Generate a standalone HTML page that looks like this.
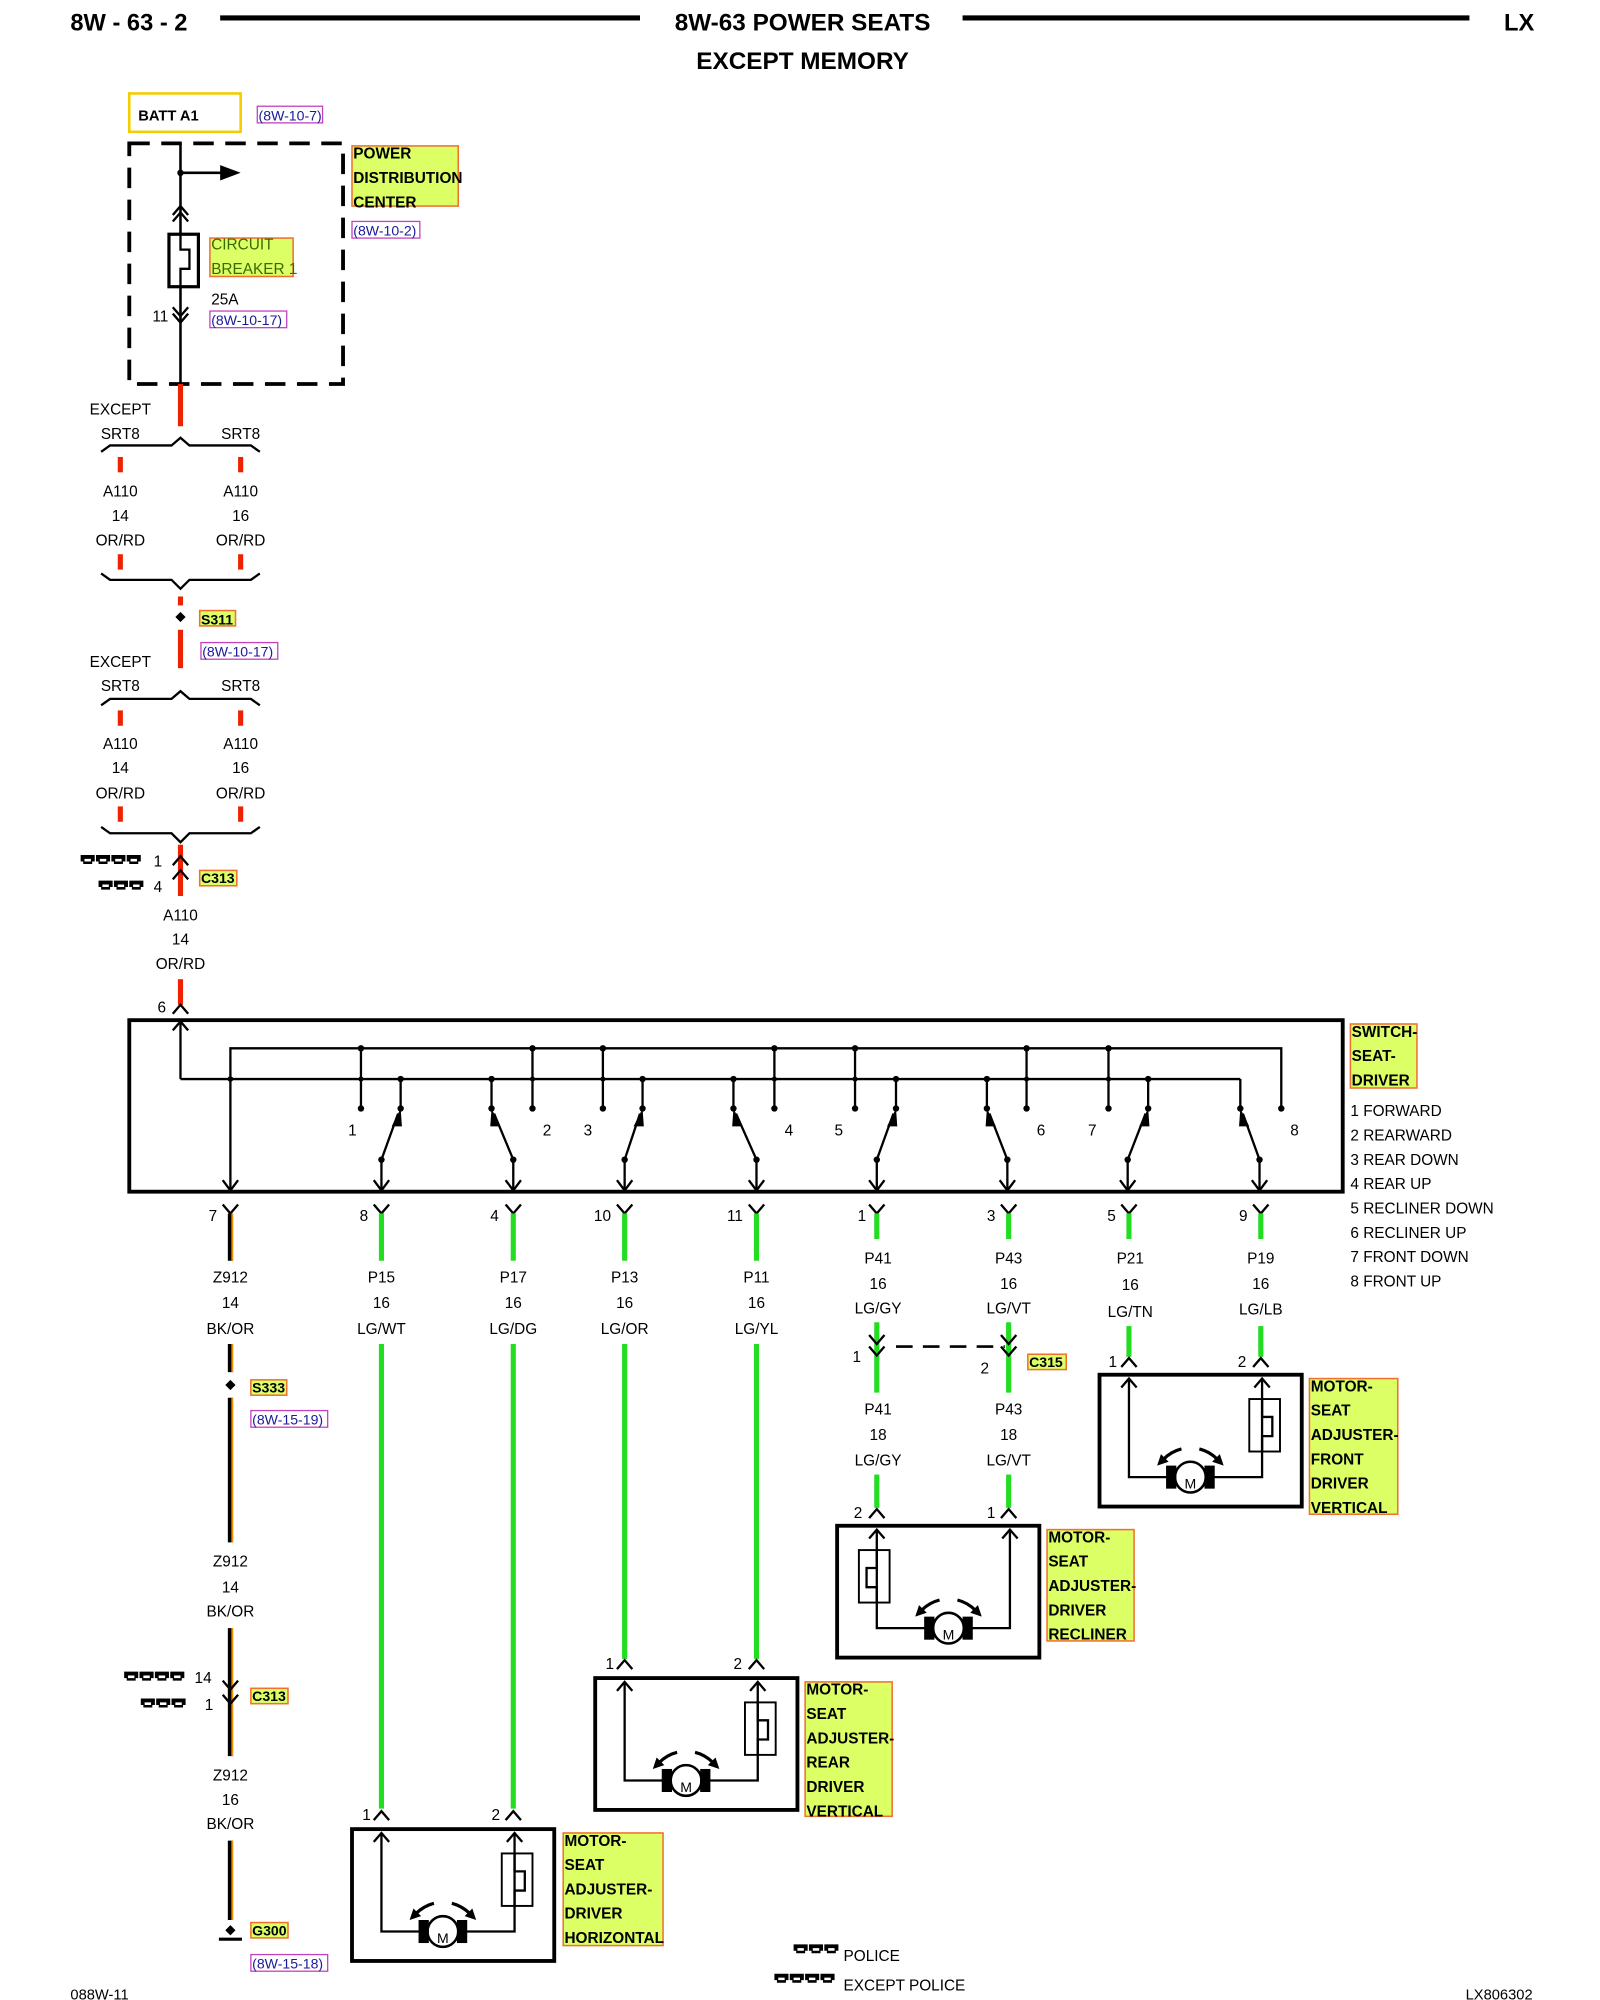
<!DOCTYPE html>
<html><head><meta charset="utf-8"><style>
html,body{margin:0;padding:0;background:#fff;}
svg{display:block;}
text{font-family:"Liberation Sans",sans-serif;fill:#000;}
.t{font-size:12px;text-anchor:middle;}
.tl{font-size:12px;}
.b{font-weight:bold;font-size:12px;}
.ref{font-size:11px;fill:#1a1a9a;}
.refb{fill:none;stroke:#c040c0;stroke-width:1;}
.lab{fill:#ddff66;stroke:#f07030;stroke-width:1.2;}
.k{stroke:#000;fill:none;stroke-width:1.8;}
.red{stroke:#ee2200;stroke-width:4;}
.grn{stroke:#22dd22;stroke-width:4;}
.m{font-size:11px;text-anchor:middle;}
</style></head><body>
<svg width="1600" height="2000" viewBox="0 0 1250 1562.5" xmlns="http://www.w3.org/2000/svg">
<defs>
<g id="motor">
 <rect x="0" y="0" width="158" height="103" fill="none" stroke="#000" stroke-width="3"/>
 <path class="k" d="M23 3 V80 H58 M84 80 H127 V3"/>
 <path class="k" d="M17 10 L23 3 L29 10 M121 10 L127 3 L133 10"/>
 <rect x="117" y="19" width="24" height="41" fill="none" stroke="#000" stroke-width="1.5"/>
 <path class="k" d="M127 19 V33 H135 V48 H127 V60" stroke-width="1.5"/>
 <circle cx="71" cy="80" r="12" fill="#fff" stroke="#000" stroke-width="2"/>
 <rect x="52" y="71" width="8" height="18" fill="#000"/>
 <rect x="82" y="71" width="8" height="18" fill="#000"/>
 <path d="M64 58 Q56 60 50 66" stroke="#000" stroke-width="2.5" fill="none"/>
 <path d="M45 71 L48 62 L54 68 Z" fill="#000"/>
 <path d="M78 58 Q86 60 92 66" stroke="#000" stroke-width="2.5" fill="none"/>
 <path d="M97 71 L94 62 L88 68 Z" fill="#000"/>
</g>
<g id="c3">
 <path d="M0 0 H11 V5 H9 V7 H2 V5 H0 Z M3 3 H8 V5 H3 Z" fill="#000" fill-rule="evenodd"/>
</g>
</defs>

<!-- header -->
<text x="55" y="24" style="font-size:18.5px;font-weight:bold">8W - 63 - 2</text>
<line x1="172" y1="14" x2="500" y2="14" stroke="#000" stroke-width="4"/>
<text x="627" y="24" style="font-size:19px;font-weight:bold;text-anchor:middle">8W-63 POWER SEATS</text>
<line x1="752" y1="14" x2="1148" y2="14" stroke="#000" stroke-width="4"/>
<text x="1175" y="24" style="font-size:18.5px;font-weight:bold">LX</text>
<text x="627" y="54" style="font-size:19px;font-weight:bold;text-anchor:middle">EXCEPT MEMORY</text>

<!-- BATT -->
<rect x="101" y="73" width="87" height="30" fill="none" stroke="#f5cc00" stroke-width="2"/>
<text x="108" y="94" class="b" style="font-size:11.5px">BATT A1</text>
<rect x="201" y="83" width="51" height="13" class="refb"/>
<text x="202" y="94" class="ref">(8W-10-7)</text>

<!-- PDC -->
<rect x="101" y="112" width="167" height="188" fill="none" stroke="#000" stroke-width="3" stroke-dasharray="16,9"/>
<line x1="141" y1="112" x2="141" y2="300" stroke="#000" stroke-width="2"/>
<circle cx="141" cy="135" r="2.5"/>
<line x1="141" y1="135" x2="175" y2="135" stroke="#000" stroke-width="2"/>
<path d="M172 129 L188 135 L172 141 Z"/>
<path class="k" d="M135 168 L141 161 L147 168 M135 173 L141 166 L147 173"/>
<rect x="132" y="183" width="23" height="41" fill="#fff" stroke="#000" stroke-width="2.5"/>
<path class="k" d="M141 183 V195 H148 V210 H141 V224" stroke-width="2"/>
<path class="k" d="M135 240 L141 247 L147 240 M135 245 L141 252 L147 245"/>
<text x="119" y="251" class="tl">11</text>
<rect x="164" y="186" width="65" height="30" class="lab"/>
<text x="165" y="195" style="font-size:12px;fill:#3a6a00">CIRCUIT</text>
<text x="165" y="214" style="font-size:12px;fill:#3a6a00">BREAKER 1</text>
<text x="165" y="238" class="tl">25A</text>
<rect x="164" y="243" width="60" height="13" class="refb"/>
<text x="165" y="254" class="ref">(8W-10-17)</text>
<rect x="275" y="114" width="83" height="47" class="lab"/>
<text x="276" y="124" class="b">POWER</text>
<text x="276" y="143" class="b">DISTRIBUTION</text>
<text x="276" y="162" class="b">CENTER</text>
<rect x="275" y="173" width="53" height="13" class="refb"/>
<text x="276" y="184" class="ref">(8W-10-2)</text>

<!-- A110 upper section -->
<line x1="141" y1="300" x2="141" y2="333" class="red"/>
<text x="70" y="324" class="tl">EXCEPT</text>
<text x="94" y="343" class="t">SRT8</text><text x="188" y="343" class="t">SRT8</text>
<path class="k" d="M79 353 L86 348 H134 L141 342 L148 348 H196 L203 353"/>
<line x1="94" y1="357" x2="94" y2="369" class="red"/><line x1="188" y1="357" x2="188" y2="369" class="red"/>
<text x="94" y="388" class="t">A110</text><text x="188" y="388" class="t">A110</text>
<text x="94" y="407" class="t">14</text><text x="188" y="407" class="t">16</text>
<text x="94" y="426" class="t">OR/RD</text><text x="188" y="426" class="t">OR/RD</text>
<line x1="94" y1="433" x2="94" y2="445" class="red"/><line x1="188" y1="433" x2="188" y2="445" class="red"/>
<path class="k" d="M79 448 L86 453 H134 L141 460 L148 453 H196 L203 448"/>
<line x1="141" y1="466" x2="141" y2="473" class="red"/>
<path d="M141 478 L145 482 L141 486 L137 482 Z"/>
<rect x="156" y="477" width="28" height="12" class="lab"/>
<text x="157" y="488" class="b" style="font-size:11px">S311</text>
<line x1="141" y1="492" x2="141" y2="522" class="red"/>
<rect x="157" y="502" width="60" height="13" class="refb"/>
<text x="158" y="513" class="ref">(8W-10-17)</text>

<text x="70" y="521" class="tl">EXCEPT</text>
<text x="94" y="540" class="t">SRT8</text><text x="188" y="540" class="t">SRT8</text>
<path class="k" d="M79 551 L86 546 H134 L141 540 L148 546 H196 L203 551"/>
<line x1="94" y1="555" x2="94" y2="567" class="red"/><line x1="188" y1="555" x2="188" y2="567" class="red"/>
<text x="94" y="585" class="t">A110</text><text x="188" y="585" class="t">A110</text>
<text x="94" y="604" class="t">14</text><text x="188" y="604" class="t">16</text>
<text x="94" y="624" class="t">OR/RD</text><text x="188" y="624" class="t">OR/RD</text>
<line x1="94" y1="630" x2="94" y2="642" class="red"/><line x1="188" y1="630" x2="188" y2="642" class="red"/>
<path class="k" d="M79 646 L86 651 H134 L141 658 L148 651 H196 L203 646"/>
<line x1="141" y1="660" x2="141" y2="700" class="red"/>
<path class="k" d="M135 676 L141 669 L147 676 M135 687 L141 680 L147 687" stroke-width="2"/>
<use href="#c3" x="63" y="668"/><use href="#c3" x="75" y="668"/><use href="#c3" x="87" y="668"/><use href="#c3" x="99" y="668"/>
<text x="120" y="677" class="tl">1</text>
<use href="#c3" x="77" y="688"/><use href="#c3" x="89" y="688"/><use href="#c3" x="101" y="688"/>
<text x="120" y="697" class="tl">4</text>
<rect x="156" y="680" width="29" height="12" class="lab"/>
<text x="157" y="690" class="b" style="font-size:11px">C313</text>
<text x="141" y="719" class="t">A110</text>
<text x="141" y="738" class="t">14</text>
<text x="141" y="757" class="t">OR/RD</text>
<line x1="141" y1="765" x2="141" y2="785" class="red"/>
<path class="k" d="M135 792 L141 785 L147 792"/>
<text x="123" y="791" class="tl">6</text>

<!-- SWITCH box -->
<rect x="101" y="797" width="948" height="134" fill="none" stroke="#000" stroke-width="3"/>
<g stroke="#000" stroke-width="1.8" fill="none">
 <path d="M141 843 V797"/>
 <path d="M135 805 L141 798 L147 805"/>
 <path d="M141 843 H969"/>
 <path d="M180 931 V819 H1001 V866"/>
 <path d="M174 922 L180 930 L186 922"/>
 <path d="M282 819 V866 M416 819 V866 M471 819 V866 M605 819 V866 M668 819 V866 M802 819 V866 M866 819 V866"/>
 <path d="M313 843 V866 M384 843 V866 M502 843 V866 M573 843 V866 M700 843 V866 M771 843 V866 M897 843 V866 M969 843 V866"/>
 <path d="M298 906 L311 870 M401 906 L386 870 M488 906 L500 870 M591 906 L575 870 M685 906 L698 870 M787 906 L773 870 M881 906 L895 870 M984 906 L971 870"/>
 <path d="M298 906 V930 M401 906 V930 M488 906 V930 M591 906 V930 M685 906 V930 M787 906 V930 M881 906 V930 M984 906 V930"/>
 <path d="M292 922 L298 930 L304 922 M395 922 L401 930 L407 922 M482 922 L488 930 L494 922 M585 922 L591 930 L597 922 M679 922 L685 930 L691 922 M781 922 L787 930 L793 922 M875 922 L881 930 L887 922 M978 922 L984 930 L990 922"/>
</g>
<g fill="#000">
 <circle cx="180" cy="843" r="2.2"/>
 <circle cx="282" cy="819" r="2.5"/><circle cx="416" cy="819" r="2.5"/><circle cx="471" cy="819" r="2.5"/><circle cx="605" cy="819" r="2.5"/><circle cx="668" cy="819" r="2.5"/><circle cx="802" cy="819" r="2.5"/><circle cx="866" cy="819" r="2.5"/>
 <circle cx="282" cy="843" r="2"/><circle cx="416" cy="843" r="2"/><circle cx="471" cy="843" r="2"/><circle cx="605" cy="843" r="2"/><circle cx="668" cy="843" r="2"/><circle cx="802" cy="843" r="2"/><circle cx="866" cy="843" r="2"/>
 <circle cx="313" cy="843" r="2.5"/><circle cx="384" cy="843" r="2.5"/><circle cx="502" cy="843" r="2.5"/><circle cx="573" cy="843" r="2.5"/><circle cx="700" cy="843" r="2.5"/><circle cx="771" cy="843" r="2.5"/><circle cx="897" cy="843" r="2.5"/>
 <circle cx="282" cy="866" r="2.5"/><circle cx="416" cy="866" r="2.5"/><circle cx="471" cy="866" r="2.5"/><circle cx="605" cy="866" r="2.5"/><circle cx="668" cy="866" r="2.5"/><circle cx="802" cy="866" r="2.5"/><circle cx="866" cy="866" r="2.5"/><circle cx="1001" cy="866" r="2.5"/>
 <circle cx="313" cy="866" r="2.5"/><circle cx="384" cy="866" r="2.5"/><circle cx="502" cy="866" r="2.5"/><circle cx="573" cy="866" r="2.5"/><circle cx="700" cy="866" r="2.5"/><circle cx="771" cy="866" r="2.5"/><circle cx="897" cy="866" r="2.5"/><circle cx="969" cy="866" r="2.5"/>
 <circle cx="298" cy="906" r="2.5"/><circle cx="401" cy="906" r="2.5"/><circle cx="488" cy="906" r="2.5"/><circle cx="591" cy="906" r="2.5"/><circle cx="685" cy="906" r="2.5"/><circle cx="787" cy="906" r="2.5"/><circle cx="881" cy="906" r="2.5"/><circle cx="984" cy="906" r="2.5"/>
 <path d="M313 866 L306 880 L314 880 Z M384 866 L391 880 L383 880 Z M502 866 L495 880 L503 880 Z M573 866 L580 880 L572 880 Z M700 866 L693 880 L701 880 Z M771 866 L778 880 L770 880 Z M897 866 L890 880 L898 880 Z M969 866 L976 880 L968 880 Z"/>
</g>
<text x="272" y="887" class="tl">1</text><text x="424" y="887" class="tl">2</text><text x="456" y="887" class="tl">3</text><text x="613" y="887" class="tl">4</text>
<text x="652" y="887" class="tl">5</text><text x="810" y="887" class="tl">6</text><text x="850" y="887" class="tl">7</text><text x="1008" y="887" class="tl">8</text>
<rect x="1055" y="800" width="52" height="50" class="lab"/>
<text x="1056" y="810" class="b">SWITCH-</text>
<text x="1056" y="829" class="b">SEAT-</text>
<text x="1056" y="848" class="b">DRIVER</text>
<text x="1055" y="872" class="tl">1 FORWARD</text>
<text x="1055" y="891" class="tl">2 REARWARD</text>
<text x="1055" y="910" class="tl">3 REAR DOWN</text>
<text x="1055" y="929" class="tl">4 REAR UP</text>
<text x="1055" y="948" class="tl">5 RECLINER DOWN</text>
<text x="1055" y="967" class="tl">6 RECLINER UP</text>
<text x="1055" y="986" class="tl">7 FRONT DOWN</text>
<text x="1055" y="1005" class="tl">8 FRONT UP</text>

<!-- output connectors -->
<g class="k">
 <path d="M174 941 L180 948 L186 941 M292 941 L298 948 L304 941 M395 941 L401 948 L407 941 M482 941 L488 948 L494 941 M585 941 L591 948 L597 941 M679 941 L685 948 L691 941 M782 941 L788 948 L794 941 M876 941 L882 948 L888 941 M979 941 L985 948 L991 941"/>
</g>
<text x="163" y="954" class="tl">7</text><text x="281" y="954" class="tl">8</text><text x="383" y="954" class="tl">4</text><text x="464" y="954" class="tl">10</text>
<text x="568" y="954" class="tl">11</text><text x="670" y="954" class="tl">1</text><text x="771" y="954" class="tl">3</text><text x="865" y="954" class="tl">5</text><text x="968" y="954" class="tl">9</text>

<!-- Z912 column -->
<g>
 <line x1="180" y1="948" x2="180" y2="985" stroke="#000" stroke-width="4"/><line x1="181.5" y1="948" x2="181.5" y2="985" stroke="#f09000" stroke-width="1.5"/>
 <text x="180" y="1002" class="t">Z912</text><text x="180" y="1022" class="t">14</text><text x="180" y="1042" class="t">BK/OR</text>
 <line x1="180" y1="1050" x2="180" y2="1072" stroke="#000" stroke-width="4"/><line x1="181.5" y1="1050" x2="181.5" y2="1072" stroke="#f09000" stroke-width="1.5"/>
 <path d="M180 1078 L184 1082 L180 1086 L176 1082 Z"/>
 <rect x="196" y="1078" width="28" height="12" class="lab"/><text x="197" y="1088" class="b" style="font-size:11px">S333</text>
 <rect x="196" y="1102" width="60" height="13" class="refb"/><text x="197" y="1113" class="ref">(8W-15-19)</text>
 <line x1="180" y1="1092" x2="180" y2="1205" stroke="#000" stroke-width="4"/><line x1="181.5" y1="1092" x2="181.5" y2="1205" stroke="#f09000" stroke-width="1.5"/>
 <text x="180" y="1224" class="t">Z912</text><text x="180" y="1244" class="t">14</text><text x="180" y="1263" class="t">BK/OR</text>
 <line x1="180" y1="1272" x2="180" y2="1372" stroke="#000" stroke-width="4"/><line x1="181.5" y1="1272" x2="181.5" y2="1372" stroke="#f09000" stroke-width="1.5"/>
 <path class="k" d="M174 1313 L180 1320 L186 1313 M174 1324 L180 1331 L186 1324" stroke-width="2"/>
 <use href="#c3" x="97" y="1306"/><use href="#c3" x="109" y="1306"/><use href="#c3" x="121" y="1306"/><use href="#c3" x="133" y="1306"/>
 <text x="152" y="1315" class="tl">14</text>
 <use href="#c3" x="110" y="1327"/><use href="#c3" x="122" y="1327"/><use href="#c3" x="134" y="1327"/>
 <text x="160" y="1336" class="tl">1</text>
 <rect x="196" y="1319" width="29" height="12" class="lab"/><text x="197" y="1329" class="b" style="font-size:11px">C313</text>
 <text x="180" y="1391" class="t">Z912</text><text x="180" y="1410" class="t">16</text><text x="180" y="1429" class="t">BK/OR</text>
 <line x1="180" y1="1438" x2="180" y2="1500" stroke="#000" stroke-width="4"/><line x1="181.5" y1="1438" x2="181.5" y2="1500" stroke="#f09000" stroke-width="1.5"/>
 <path d="M180 1504 L184 1508 L180 1512 L176 1508 Z"/>
 <line x1="171" y1="1515" x2="189" y2="1515" stroke="#000" stroke-width="2.5"/>
 <rect x="196" y="1502" width="29" height="12" class="lab"/><text x="197" y="1512" class="b" style="font-size:11px">G300</text>
 <rect x="196" y="1527" width="60" height="13" class="refb"/><text x="197" y="1538" class="ref">(8W-15-18)</text>
</g>

<!-- green columns -->
<line x1="298" y1="948" x2="298" y2="985" class="grn"/><line x1="401" y1="948" x2="401" y2="985" class="grn"/>
<line x1="488" y1="948" x2="488" y2="985" class="grn"/><line x1="591" y1="948" x2="591" y2="985" class="grn"/>
<text x="298" y="1002" class="t">P15</text><text x="298" y="1022" class="t">16</text><text x="298" y="1042" class="t">LG/WT</text>
<text x="401" y="1002" class="t">P17</text><text x="401" y="1022" class="t">16</text><text x="401" y="1042" class="t">LG/DG</text>
<text x="488" y="1002" class="t">P13</text><text x="488" y="1022" class="t">16</text><text x="488" y="1042" class="t">LG/OR</text>
<text x="591" y="1002" class="t">P11</text><text x="591" y="1022" class="t">16</text><text x="591" y="1042" class="t">LG/YL</text>
<line x1="298" y1="1050" x2="298" y2="1413" class="grn"/><line x1="401" y1="1050" x2="401" y2="1413" class="grn"/>
<line x1="488" y1="1050" x2="488" y2="1296" class="grn"/><line x1="591" y1="1050" x2="591" y2="1296" class="grn"/>
<path class="k" d="M292 1422 L298 1415 L304 1422 M395 1422 L401 1415 L407 1422 M482 1304 L488 1297 L494 1304 M585 1304 L591 1297 L597 1304"/>
<text x="283" y="1422" class="tl">1</text><text x="384" y="1422" class="tl">2</text>
<text x="473" y="1304" class="tl">1</text><text x="573" y="1304" class="tl">2</text>

<!-- P41/P43 -->
<line x1="685" y1="948" x2="685" y2="968" class="grn"/><line x1="788" y1="948" x2="788" y2="968" class="grn"/>
<text x="686" y="987" class="t">P41</text><text x="686" y="1007" class="t">16</text><text x="686" y="1026" class="t">LG/GY</text>
<text x="788" y="987" class="t">P43</text><text x="788" y="1007" class="t">16</text><text x="788" y="1026" class="t">LG/VT</text>
<line x1="685" y1="1033" x2="685" y2="1088" class="grn"/><line x1="788" y1="1033" x2="788" y2="1088" class="grn"/>
<path class="k" d="M679 1043 L685 1050 L691 1043 M679 1052 L685 1059 L691 1052 M782 1043 L788 1050 L794 1043 M782 1052 L788 1059 L794 1052" stroke-width="2"/>
<path d="M700 1052 H785" stroke="#000" stroke-width="2" stroke-dasharray="13,8"/>
<text x="666" y="1064" class="tl">1</text><text x="766" y="1073" class="tl">2</text>
<rect x="803" y="1058" width="30" height="12" class="lab"/><text x="804" y="1068" class="b" style="font-size:11px">C315</text>
<text x="686" y="1105" class="t">P41</text><text x="686" y="1125" class="t">18</text><text x="686" y="1145" class="t">LG/GY</text>
<text x="788" y="1105" class="t">P43</text><text x="788" y="1125" class="t">18</text><text x="788" y="1145" class="t">LG/VT</text>
<line x1="685" y1="1152" x2="685" y2="1178" class="grn"/><line x1="788" y1="1152" x2="788" y2="1178" class="grn"/>
<path class="k" d="M679 1186 L685 1179 L691 1186 M782 1186 L788 1179 L794 1186"/>
<text x="667" y="1186" class="tl">2</text><text x="771" y="1186" class="tl">1</text>

<!-- P21/P19 -->
<line x1="882" y1="948" x2="882" y2="968" class="grn"/><line x1="985" y1="948" x2="985" y2="968" class="grn"/>
<text x="883" y="987" class="t">P21</text><text x="883" y="1008" class="t">16</text><text x="883" y="1029" class="t">LG/TN</text>
<text x="985" y="987" class="t">P19</text><text x="985" y="1007" class="t">16</text><text x="985" y="1027" class="t">LG/LB</text>
<line x1="882" y1="1036" x2="882" y2="1060" class="grn"/><line x1="985" y1="1036" x2="985" y2="1060" class="grn"/>
<path class="k" d="M876 1068 L882 1061 L888 1068 M979 1068 L985 1061 L991 1068"/>
<text x="866" y="1068" class="tl">1</text><text x="967" y="1068" class="tl">2</text>

<!-- motors -->
<use href="#motor" x="275" y="1429"/>
<use href="#motor" x="465" y="1311"/>
<use href="#motor" x="859" y="1074"/>
<use href="#motor" transform="translate(812,1192) scale(-1,1)"/>
<text x="346" y="1518" class="m">M</text>
<text x="536" y="1400" class="m">M</text>
<text x="930" y="1163" class="m">M</text>
<text x="741" y="1281" class="m">M</text>

<rect x="440" y="1432" width="78" height="88" class="lab"/>
<text x="441" y="1442" class="b">MOTOR-</text><text x="441" y="1461" class="b">SEAT</text><text x="441" y="1480" class="b">ADJUSTER-</text><text x="441" y="1499" class="b">DRIVER</text><text x="441" y="1518" class="b">HORIZONTAL</text>
<rect x="629" y="1314" width="68" height="105" class="lab"/>
<text x="630" y="1324" class="b">MOTOR-</text><text x="630" y="1343" class="b">SEAT</text><text x="630" y="1362" class="b">ADJUSTER-</text><text x="630" y="1381" class="b">REAR</text><text x="630" y="1400" class="b">DRIVER</text><text x="630" y="1419" class="b">VERTICAL</text>
<rect x="818" y="1195" width="68" height="87" class="lab"/>
<text x="819" y="1205" class="b">MOTOR-</text><text x="819" y="1224" class="b">SEAT</text><text x="819" y="1243" class="b">ADJUSTER-</text><text x="819" y="1262" class="b">DRIVER</text><text x="819" y="1281" class="b">RECLINER</text>
<rect x="1023" y="1077" width="69" height="106" class="lab"/>
<text x="1024" y="1087" class="b">MOTOR-</text><text x="1024" y="1106" class="b">SEAT</text><text x="1024" y="1125" class="b">ADJUSTER-</text><text x="1024" y="1144" class="b">FRONT</text><text x="1024" y="1163" class="b">DRIVER</text><text x="1024" y="1182" class="b">VERTICAL</text>

<!-- legend -->
<use href="#c3" x="620" y="1519"/><use href="#c3" x="632" y="1519"/><use href="#c3" x="644" y="1519"/>
<text x="659" y="1532" class="tl">POLICE</text>
<use href="#c3" x="605" y="1542"/><use href="#c3" x="617" y="1542"/><use href="#c3" x="629" y="1542"/><use href="#c3" x="641" y="1542"/>
<text x="659" y="1555" class="tl">EXCEPT POLICE</text>

<text x="55" y="1562" class="tl" style="font-size:11.5px">088W-11</text>
<text x="1145" y="1562" class="tl" style="font-size:11.5px">LX806302</text>
</svg>
</body></html>
